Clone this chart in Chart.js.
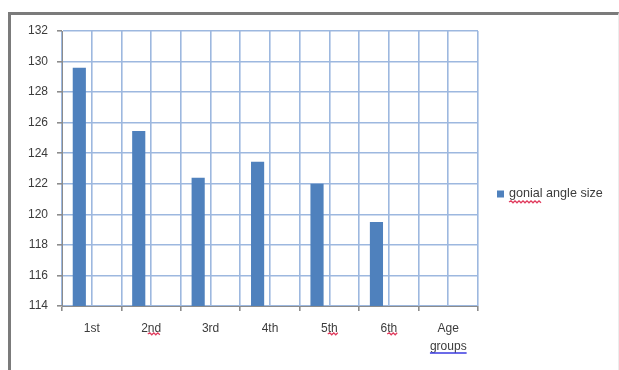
<!DOCTYPE html>
<html>
<head>
<meta charset="utf-8">
<script src="https://cdn.jsdelivr.net/npm/chart.js@4"></script>
<style>
  body { margin: 0; background: #fff; }
  #wrap { position: relative; width: 619px; height: 370px; overflow: hidden; }
  .frame {
    position: absolute; left: 8px; top: 12px; width: 607px; height: 360px;
    border-top: 3px solid #7b7b7b; border-left: 3px solid #7b7b7b;
    border-right: 1px solid #ececec;
  }
  canvas { position: absolute; left: 0; top: 0; }
</style>
</head>
<body>
<div id="wrap">
  <div class="frame"></div>
  <canvas id="chart" width="619" height="370"></canvas>
</div>
<script>
// data
const ageGroups = ['1st', '2nd', '3rd', '4th', '5th', '6th', ['Age', 'groups']];
const gonialAngle = [129.6, 125.45, 122.4, 123.45, 122.0, 119.5, null];
const emptySeries = [null, null, null, null, null, null, null];
const seriesLabel = 'gonial angle size';

const yMin = 114, yMax = 132, yStep = 2;

const barBlue = '#4f81bd';
const gridBlue = '#9db8df';
const axisGray = '#8c8c8c';
const textGray = '#3c3c3c';
const FONT = 'Liberation Sans';

// red / blue spell check waves, like the original screenshot
function squiggle(ctx, x1, x2, y, color) {
    ctx.save();
    ctx.strokeStyle = color;
    ctx.lineWidth = 1.3;
    ctx.beginPath();
    ctx.moveTo(x1, y);
    let up = true;
    for (let x = x1 + 2; x <= x2; x += 2) {
        ctx.lineTo(x, up ? y - 1.2 : y + 0.8);
        up = !up;
    }
    ctx.stroke();
    ctx.restore();
}

const extrasPlugin = {
    id: 'extras',
    afterDraw(chart) {
        const ctx = chart.ctx;
        const x = chart.scales.x;
        const area = chart.chartArea;

        // legend
        const lx = area.right + 19;
        const ly = 194;
        ctx.save();
        ctx.fillStyle = barBlue;
        ctx.fillRect(lx, ly - 3.5, 7, 7);
        ctx.font = '12.6px "' + FONT + '"';
        ctx.fillStyle = textGray;
        ctx.textBaseline = 'middle';
        ctx.fillText(seriesLabel, lx + 12, ly);
        const gw = ctx.measureText('gonial').width;
        squiggle(ctx, lx + 12, lx + 12 + gw, ly + 8, '#e03a5c');

        // marks under tick labels
        ctx.font = '12px "' + FONT + '"';
        [[1, '2'], [4, '5'], [5, '6']].forEach(([i, head]) => {
            const label = ageGroups[i];
            const w = ctx.measureText(label).width;
            const cx = x.getPixelForTick(i);
            const start = cx - w / 2 + ctx.measureText(head).width;
            squiggle(ctx, start, cx + w / 2, 334, '#e03a5c');
        });
        const gwid = ctx.measureText('groups').width;
        const gc = x.getPixelForTick(6);
        ctx.strokeStyle = '#3a3ae0';
        ctx.lineWidth = 1.3;
        ctx.beginPath();
        ctx.moveTo(gc - gwid / 2, 353);
        ctx.lineTo(gc + gwid / 2, 353);
        ctx.stroke();
        ctx.restore();
    }
};

new Chart(document.getElementById('chart'), {
    type: 'bar',
    data: {
        labels: ageGroups,
        datasets: [
            {
                label: seriesLabel,
                data: gonialAngle,
                backgroundColor: barBlue,
                categoryPercentage: 0.835,
                barPercentage: 0.53
            },
            {
                label: '',
                data: emptySeries,
                backgroundColor: barBlue,
                categoryPercentage: 0.835,
                barPercentage: 0.53
            }
        ]
    },
    options: {
        responsive: false,
        animation: false,
        devicePixelRatio: 1,
        layout: { padding: { top: 31, right: 141, bottom: 0, left: 0 } },
        plugins: {
            legend: { display: false },
            tooltip: { enabled: false }
        },
        scales: {
            x: {
                position: 'bottom',
                offset: true,
                grid: {
                    offset: true,
                    color: gridBlue,
                    lineWidth: 1.6,
                    tickColor: axisGray,
                    tickLength: 5
                },
                border: { color: axisGray },
                ticks: {
                    color: textGray,
                    font: { family: FONT, size: 12, lineHeight: 1.55 },
                    padding: 8,
                    maxRotation: 0,
                    autoSkip: false
                },
                afterFit: s => { s.height = 64; }
            },
            xMid: {
                type: 'category',
                position: 'bottom',
                offset: true,
                grid: { offset: false, color: gridBlue, lineWidth: 1.6, drawTicks: false },
                border: { display: false },
                ticks: { display: false },
                afterFit: s => { s.height = 0; }
            },
            y: {
                min: yMin,
                max: yMax,
                ticks: {
                    stepSize: yStep,
                    color: textGray,
                    font: { family: FONT, size: 12 },
                    padding: 9
                },
                grid: {
                    color: gridBlue,
                    lineWidth: 1.6,
                    tickColor: axisGray,
                    tickLength: 5
                },
                border: { color: axisGray },
                afterFit: s => { s.width = 62; }
            }
        }
    },
    plugins: [extrasPlugin]
});
</script>
</body>
</html>
